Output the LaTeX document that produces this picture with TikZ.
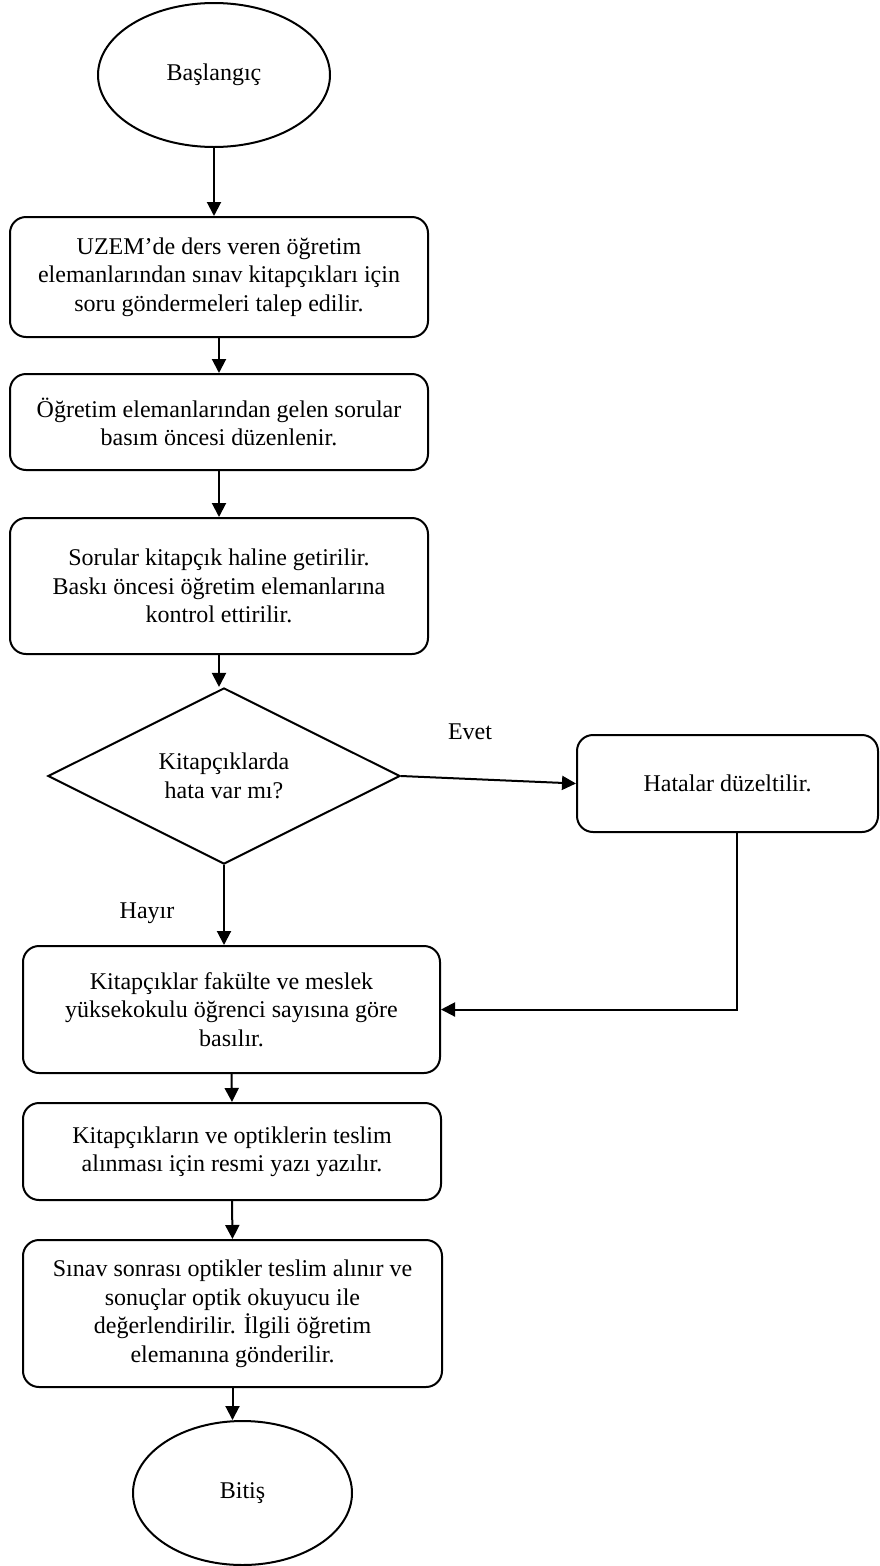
\documentclass[tikz,border=0pt]{standalone}
\usepackage{fontspec}
\setmainfont{Liberation Serif}
\usetikzlibrary{shapes.geometric,arrows.meta,calc,positioning}
\begin{document}
\begin{tikzpicture}[x=1pt,y=-1pt,line width=2pt,
  every node/.style={align=center,inner sep=0pt,font=\fontsize{24}{28.5}\selectfont},
  procbox/.style={draw,rectangle,rounded corners=16pt},
  startend/.style={draw,ellipse},
  decision/.style={draw,diamond},
  arr/.style={-{Triangle[length=14pt,width=14pt]}}]
\useasboundingbox (0,0) rectangle (879,1566);
\node [startend,minimum width=232pt,minimum height=144pt] (Start) at (214,75) {Başlangıç};
\node [procbox,minimum width=418pt,minimum height=120pt] (Request) at (219,277) {UZEM’de ders veren öğretim\\elemanlarından sınav kitapçıkları için\\soru göndermeleri talep edilir.};
\node [procbox,minimum width=418pt,minimum height=96pt] (Edit) at (219,422) {Öğretim elemanlarından gelen sorular\\basım öncesi düzenlenir.};
\node [procbox,minimum width=418pt,minimum height=136pt] (Booklet) at (219,586) {Sorular kitapçık haline getirilir.\\Baskı öncesi öğretim elemanlarına\\kontrol ettirilir.};
\node [decision,minimum width=352pt,minimum height=172pt] (Check) at (224,776) {Kitapçıklarda\\hata var mı?};
\node [procbox,minimum width=301pt,minimum height=97pt] (Fix) at (727.5,783.5) {Hatalar düzeltilir.};
\node [procbox,minimum width=417pt,minimum height=127pt] (Print) at (231.5,1009.5) {Kitapçıklar fakülte ve meslek\\yüksekokulu öğrenci sayısına göre\\basılır.};
\node [procbox,minimum width=418pt,minimum height=97pt] (Letter) at (232,1151.5) {Kitapçıkların ve optiklerin teslim\\alınması için resmi yazı yazılır.};
\node [procbox,minimum width=419pt,minimum height=147pt] (Evaluate) at (232.5,1313.5) {Sınav sonrası optikler teslim alınır ve\\sonuçlar optik okuyucu ile\\değerlendirilir. İlgili öğretim\\elemanına gönderilir.};
\node [startend,minimum width=219pt,minimum height=144pt] (End) at (242.5,1493) {Bitiş};
\node (YesLabel) at (470,732) {Evet};
\node (NoLabel) at (147,913) {Hayır};
\draw [arr] (Start.south) -- (Start.south |- Request.north);
\draw [arr] (Request.south) -- (Edit.north);
\draw [arr] (Edit.south) -- (Booklet.north);
\draw [arr] (Booklet.south) -- (Booklet.south |- Check.north);
\draw [arr] (Check.east) -- (Fix.west);
\draw [arr] (Check.south) -- (Check.south |- Print.north);
\draw [arr] ([xshift=9.5pt]Fix.south) |- (Print.east);
\draw [arr] (Print.south) -- (Letter.north);
\draw [arr] (Letter.south) -- (Evaluate.north);
\draw [arr] (Evaluate.south) -- (Evaluate.south |- End.north);
\end{tikzpicture}
\end{document}
